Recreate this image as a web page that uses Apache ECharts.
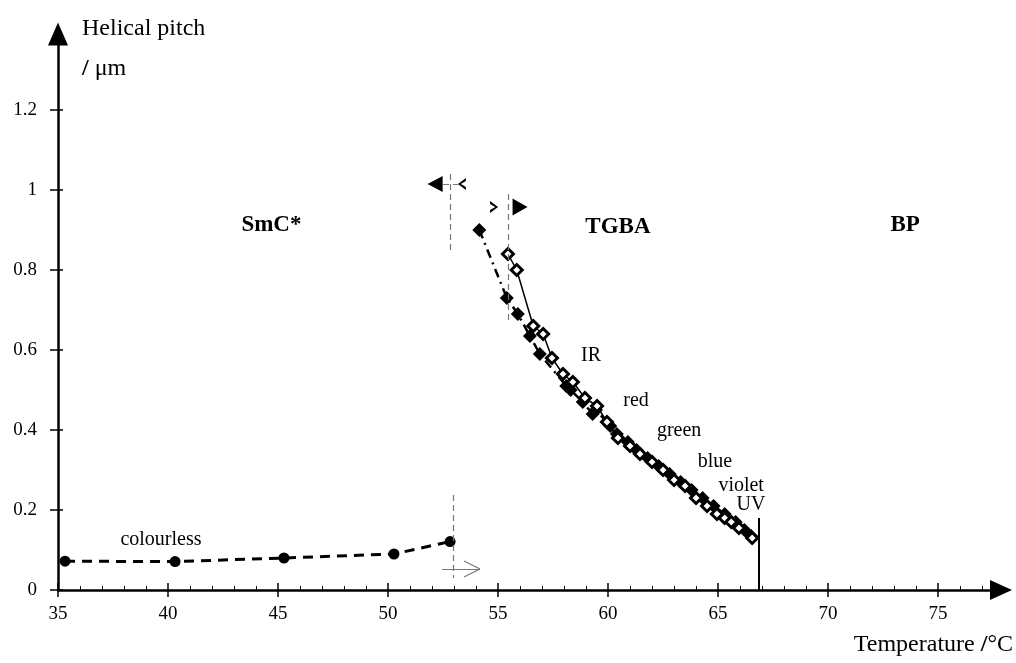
<!DOCTYPE html>
<html>
<head>
<meta charset="utf-8">
<script src="https://cdn.jsdelivr.net/npm/echarts@6/dist/echarts.min.js"></script>
<style>
  html, body { margin: 0; padding: 0; background: #fff; }
  #chart { width: 1016px; height: 663px; }
</style>
</head>
<body>
<div id="chart"></div>
<script>
// SmC* phase (colourless), filled circles, dashed line
const tempSmC  = [35.32, 40.32, 45.27, 50.27, 52.82];
const pitchSmC = [0.072, 0.071, 0.080, 0.090, 0.121];

// TGBA, filled diamonds (dash-dot line)
const tempFilled  = [54.15, 55.4, 55.9, 56.45, 56.9, 58.1, 58.3, 58.85, 59.3, 59.45, 60.1, 60.4, 60.9, 61.3, 61.8, 62.3, 62.8, 63.3, 63.8, 64.3, 64.8, 65.3, 65.8, 66.2, 66.5];
const pitchFilled = [0.90, 0.73, 0.69, 0.635, 0.59, 0.51, 0.50, 0.47, 0.44, 0.45, 0.41, 0.39, 0.37, 0.35, 0.33, 0.31, 0.29, 0.27, 0.25, 0.23, 0.21, 0.19, 0.17, 0.15, 0.135];

// TGBA, open diamonds (solid line)
const tempOpen  = [55.45, 55.85, 56.6, 57.05, 57.45, 57.95, 58.4, 58.95, 59.5, 59.95, 60.45, 61.0, 61.45, 62.0, 62.5, 63.0, 63.5, 64.0, 64.5, 64.95, 65.3, 65.6, 65.95, 66.55];
const pitchOpen = [0.84, 0.80, 0.66, 0.64, 0.58, 0.54, 0.52, 0.48, 0.46, 0.42, 0.38, 0.36, 0.34, 0.32, 0.30, 0.275, 0.26, 0.23, 0.21, 0.19, 0.18, 0.17, 0.155, 0.13];

// Axis ticks
const xTicks = [35, 40, 45, 50, 55, 60, 65, 70, 75];
const yTicks = [0, 0.2, 0.4, 0.6, 0.8, 1, 1.2];

// Phase names and colour notes
const phaseNames = ['SmC*', 'TGBA', 'BP'];
const phaseT     = [44.7, 60.45, 73.5];
const phaseP     = [0.9125, 0.9075, 0.9125];
const colourNames = ['colourless', 'IR', 'red', 'green', 'blue', 'violet', 'UV'];
const colourT     = [39.68, 59.23, 61.27, 63.23, 64.86, 66.05, 66.5];
const colourP     = [0.125, 0.585, 0.4725, 0.3975, 0.32, 0.26, 0.2125];

// Transition markers
const tSmCTGBA_heat = 52.85;   // left vertical
const tSmCTGBA_cool = 55.45;   // right vertical
const tTGBABP = 66.87;         // UV boundary

const FONT = 'Liberation Serif';
const pairs = (xs, ys) => xs.map((x, i) => [x, ys[i]]);

const chart = echarts.init(document.getElementById('chart'));

const tickStyle = { color: '#000', width: 1.5 };
const greyDash = { color: '#777', width: 1.2, type: [6, 4] };
const chevron = 'path://M10,0 L0,5 L10,10 L10,7.6 L3.6,5 L10,2.4 Z';

const option = {
  animation: false,
  backgroundColor: '#fff',
  grid: { left: 58, right: 15, top: 34, bottom: 73, containLabel: false, outerBoundsMode: 'none' },
  xAxis: [
    {
      type: 'value', min: 35, max: 77.86, interval: 5,
      axisLine: { lineStyle: { color: '#000', width: 2.5 }, symbol: ['none', 'triangle'], symbolSize: [20, 22] },
      axisTick: { length: 7, lineStyle: tickStyle, customValues: xTicks },
      axisLabel: { margin: 15, color: '#000', fontFamily: FONT, fontSize: 19, customValues: xTicks },
      splitLine: { show: false }
    },
    {
      type: 'value', min: 35, max: 77.86, interval: 5, position: 'bottom',
      axisLine: { show: false },
      axisTick: { inside: true, length: 7, lineStyle: tickStyle, customValues: xTicks },
      minorTick: { show: true, splitNumber: 5, length: 4, lineStyle: { color: '#000', width: 1 } },
      axisLabel: { show: false },
      splitLine: { show: false }
    }
  ],
  yAxis: [
    {
      type: 'value', min: 0, max: 1.39, interval: 0.2,
      axisLine: { lineStyle: { color: '#000', width: 2.5 }, symbol: ['none', 'triangle'], symbolSize: [20, 23] },
      axisTick: { length: 8, lineStyle: tickStyle, customValues: yTicks },
      axisLabel: { margin: 21, color: '#000', fontFamily: FONT, fontSize: 19, customValues: yTicks,
        formatter: v => String(+v.toFixed(1)) },
      splitLine: { show: false }
    },
    {
      type: 'value', min: 0, max: 1.39, interval: 0.2, position: 'left',
      axisLine: { show: false },
      axisTick: { inside: true, length: 5, lineStyle: tickStyle, customValues: yTicks },
      axisLabel: { show: false },
      splitLine: { show: false }
    }
  ],
  graphic: [
    { type: 'text', left: 82, top: 17, style: { text: 'Helical pitch', font: '24px "Liberation Serif"', fill: '#000' } },
    { type: 'text', left: 82, top: 57, style: { text: '{s|/} μm', font: '24px "Liberation Serif"', fill: '#000',
      rich: { s: { fontFamily: FONT, fontSize: 24, fontWeight: 'bold' } } } },
    { type: 'text', right: 3, top: 633, style: { text: 'Temperature {s|/}°C', font: '24px "Liberation Serif"', fill: '#000',
      rich: { s: { fontFamily: FONT, fontSize: 24, fontWeight: 'bold' } } } }
  ],
  series: [
    {
      name: 'SmC*', type: 'line', data: pairs(tempSmC, pitchSmC),
      symbol: 'circle', symbolSize: 11,
      itemStyle: { color: '#000' },
      lineStyle: { color: '#000', width: 3, type: [10, 7] },
      z: 3
    },
    {
      name: 'TGBA filled', type: 'line', data: pairs(tempFilled, pitchFilled),
      symbol: 'diamond', symbolSize: 14,
      itemStyle: { color: '#000' },
      lineStyle: { color: '#000', width: 2.5, type: [9, 5, 2, 5] },
      z: 3
    },
    {
      name: 'TGBA open', type: 'line', data: pairs(tempOpen, pitchOpen),
      symbol: 'diamond', symbolSize: 11,
      itemStyle: { color: '#fff', borderColor: '#000', borderWidth: 3 },
      lineStyle: { color: '#000', width: 1.5 },
      z: 4
    },
    {
      name: 'phases', type: 'scatter', symbolSize: 0, silent: true,
      itemStyle: { opacity: 1 },
      data: phaseNames.map((n, i) => ({ name: n, value: [phaseT[i], phaseP[i]] })),
      label: { show: true, position: 'inside', formatter: '{b}', color: '#000',
        fontFamily: FONT, fontSize: 23, fontWeight: 'bold' },
      z: 5
    },
    {
      name: 'colours', type: 'scatter', symbolSize: 0, silent: true,
      itemStyle: { opacity: 1 },
      data: colourNames.map((n, i) => ({ name: n, value: [colourT[i], colourP[i]] })),
      label: { show: true, position: 'inside', formatter: '{b}', color: '#000',
        fontFamily: FONT, fontSize: 20 },
      z: 5,
      markLine: {
        silent: true, symbol: 'none', animation: false,
        label: { show: false },
        data: [
          // TGBA / BP boundary
          [{ coord: [tTGBABP, 0], lineStyle: { color: '#000', width: 2, type: 'solid' } }, { coord: [tTGBABP, 0.18] }],
          // SmC* -> TGBA transition lines
          [{ coord: [tSmCTGBA_heat, 1.04], lineStyle: greyDash }, { coord: [tSmCTGBA_heat, 0.84] }],
          [{ coord: [52.5, 1.015], lineStyle: greyDash }, { coord: [53.2, 1.015] }],
          [{ coord: [tSmCTGBA_cool, 0.99], lineStyle: greyDash }, { coord: [tSmCTGBA_cool, 0.675] }],
          [{ coord: [52.95, 0.2375], lineStyle: greyDash }, { coord: [52.95, 0.03] }],
          // open arrow at the bottom
          [{ coord: [52.45, 0.0525], lineStyle: { color: '#777', width: 1.2, type: 'solid' } }, { coord: [54.18, 0.0525] }],
          [{ coord: [53.45, 0.0725], lineStyle: { color: '#777', width: 1.2, type: 'solid' } }, { coord: [54.18, 0.0525] }],
          [{ coord: [53.45, 0.0325], lineStyle: { color: '#777', width: 1.2, type: 'solid' } }, { coord: [54.18, 0.0525] }]
        ]
      },
      markPoint: {
        silent: true, animation: false,
        label: { show: false },
        itemStyle: { color: '#000', opacity: 1 },
        data: [
          { coord: [52.14, 1.015], symbol: 'triangle', symbolRotate: 90, symbolSize: [16, 15] },
          { coord: [53.36, 1.015], symbol: chevron, symbolSize: [8, 12] },
          { coord: [54.82, 0.9575], symbol: chevron, symbolRotate: 180, symbolSize: [8, 12] },
          { coord: [56.0, 0.9575], symbol: 'triangle', symbolRotate: -90, symbolSize: [17, 15] }
        ]
      }
    }
  ]
};

chart.setOption(option);
</script>
</body>
</html>
